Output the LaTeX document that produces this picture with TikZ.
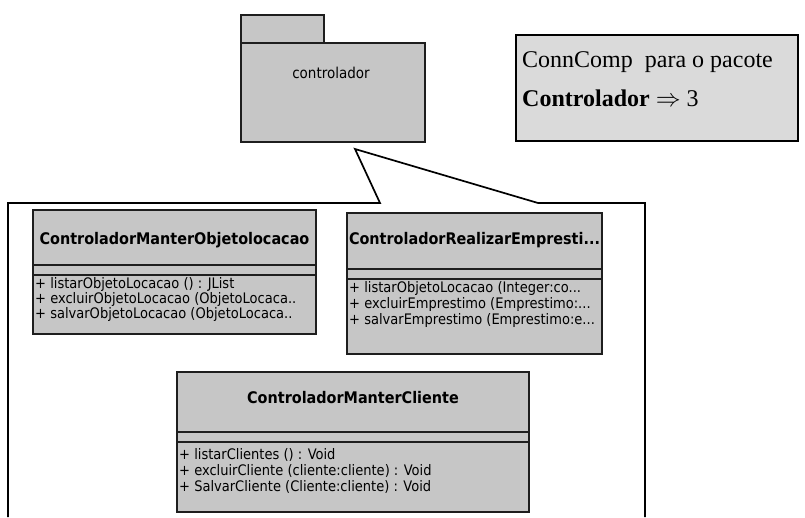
\documentclass[tikz,border=0pt]{standalone}
\usepackage{fontspec}
\setmainfont{Liberation Serif}
\newfontfamily\umlfont{DejaVu Sans Condensed}
\definecolor{boxfill}{HTML}{C6C6C6}
\definecolor{notefill}{HTML}{DADADA}
\definecolor{edge}{HTML}{1E1E1E}
\tikzset{
  classbox/.style={draw=edge, line width=1.2pt, fill=boxfill},
  pkgbox/.style={draw=edge, line width=1.4pt, fill=boxfill},
  clsname/.style={font=\umlfont\bfseries\fontsize{16}{18}\selectfont, inner sep=0pt},
  member/.style={font=\umlfont\fontsize{14.5}{16}\selectfont, inner sep=0pt, anchor=west},
  frameline/.style={draw=black, line width=1.7pt, line join=miter},
}
\begin{document}
\begin{tikzpicture}[x=1pt,y=-1pt]
\useasboundingbox (0,0) rectangle (805,517);

% package icon
\draw[pkgbox] (241,15) rectangle (324,43);
\draw[pkgbox] (241,43) rectangle (425,142);
\node[font=\umlfont\fontsize{15}{17}\selectfont] (pkg) at (331,73) {controlador};

% metric note
\draw[draw=black, line width=1.4pt, fill=notefill] (516,35) rectangle (798,141);
\node[anchor=west, font=\fontsize{24}{28}\selectfont, inner sep=0pt] (note1) at (522,62) {ConnComp\ \ para o pacote};
\node[anchor=west, font=\fontsize{24}{28}\selectfont, inner sep=0pt] (note2) at (522,98) {\textbf{Controlador} $\Rightarrow$ 3};

% callout frame around the package contents
\coordinate (tip) at (355,149);
\draw[frameline] (8,517) -- (8,203) -- (380,203) -- (tip) -- (538,203) -- (645,203) -- (645,517);

% class ControladorManterObjetolocacao
\draw[classbox] (33,210) rectangle (316,334);
\draw[edge, line width=1.2pt] (33,265) -- (316,265) (33,275) -- (316,275);
\node[clsname] (c1) at (174.5,240) {ControladorManterObjetolocacao};
\node[member] (c1m1) at (35,284) {+ listarObjetoLocacao () : JList};
\node[member] (c1m2) at (35,299) {+ excluirObjetoLocacao (ObjetoLocaca..};
\node[member] (c1m3) at (35,314) {+ salvarObjetoLocacao (ObjetoLocaca..};

% class ControladorRealizarEmprestimo
\draw[classbox] (347,213) rectangle (602,354);
\draw[edge, line width=1.2pt] (347,269) -- (602,269) (347,279) -- (602,279);
\node[clsname] (c2) at (474.5,240) {ControladorRealizarEmpresti...};
\node[member] (c2m1) at (349,288) {+ listarObjetoLocacao (Integer:co...};
\node[member] (c2m2) at (349,304) {+ excluirEmprestimo (Emprestimo:...};
\node[member] (c2m3) at (349,320) {+ salvarEmprestimo (Emprestimo:e...};

% class ControladorManterCliente
\draw[classbox] (177,372) rectangle (529,512);
\draw[edge, line width=1.2pt] (177,432) -- (529,432) (177,442) -- (529,442);
\node[clsname] (c3) at (353,398) {ControladorManterCliente};
\node[member] (c3m1) at (179,455) {+ listarClientes () : Void};
\node[member] (c3m2) at (179,471) {+ excluirCliente (cliente:cliente) : Void};
\node[member] (c3m3) at (179,487) {+ SalvarCliente (Cliente:cliente) : Void};
\end{tikzpicture}
\end{document}
